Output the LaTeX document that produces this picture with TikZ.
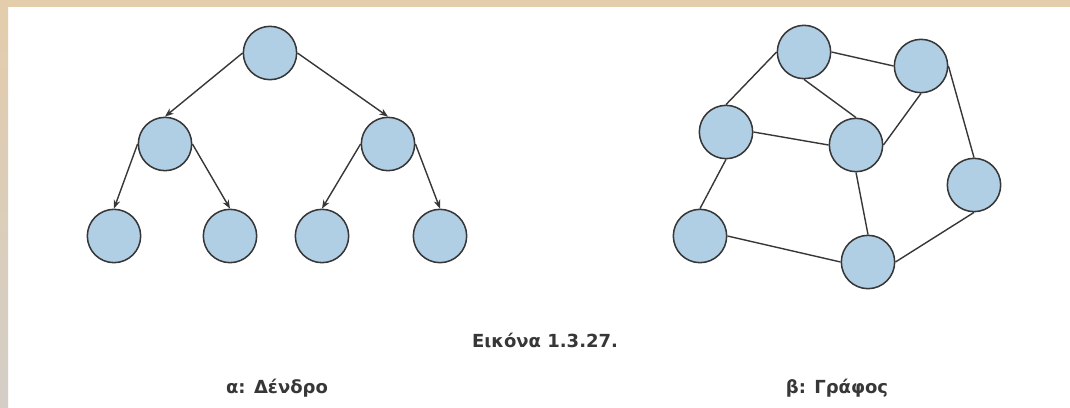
\documentclass[tikz,border=0pt]{standalone}
\usepackage{fontspec}
\setmainfont{DejaVu Sans}
\usetikzlibrary{arrows.meta}
\definecolor{nodeblue}{RGB}{176,207,229}
\definecolor{edgegray}{RGB}{55,55,55}
\definecolor{frametan}{RGB}{227,205,171}
\definecolor{framegray}{RGB}{212,206,199}

\begin{document}
\begin{tikzpicture}[x=0.75pt,y=-0.75pt,line join=round,
  vtx/.style={circle,draw=edgegray,fill=nodeblue,line width=1.15pt,minimum size=40pt,inner sep=0pt},
  arc/.style={edgegray,line width=1.05pt},
  tarc/.style={arc,-{Stealth[length=6.5pt,width=5pt]}},
  captext/.style={font=\bfseries\fontsize{13.5}{16}\selectfont,text=edgegray}]
  \useasboundingbox (0,0) rectangle (1070,407);
  % page with its frame on the top and left
  \fill[white] (0,0) rectangle (1070,407);
  \shade[top color=frametan,bottom color=framegray] (0,0) rectangle (8,407);
  \fill[frametan] (0,0) rectangle (1070,7);
  % the tree
  \node[vtx] (r) at (270,53) {};
  \node[vtx] (a) at (165,144) {}; \node[vtx] (b) at (388,144) {};
  \foreach \n/\x in {a1/114,a2/230,b1/322,b2/440} \node[vtx] (\n) at (\x,236) {};
  \draw[tarc] (r.west) -- (a.north); \draw[tarc] (r.east) -- (b.north);
  \foreach \p in {a,b} {\draw[tarc] (\p.west) -- (\p1.north); \draw[tarc] (\p.east) -- (\p2.north);}
  % the graph
  \node[vtx] (n1) at (804,52) {}; \node[vtx] (n2) at (921,66) {};
  \node[vtx] (n3) at (726,132) {}; \node[vtx] (n4) at (856,145) {};
  \node[vtx] (n5) at (974,185) {}; \node[vtx] (n6) at (700,236) {};
  \node[vtx] (n7) at (868,262) {};
  \foreach \u/\v in {n1.east/n2.west,n1.west/n3.north,n1.south/n4.north,n2.south/n4.east,
    n2.east/n5.north,n3.east/n4.west,n3.south/n6.north,n4.south/n7.north,
    n6.east/n7.west,n7.east/n5.south}
    \draw[arc] (\u) -- (\v);
  % captions
  \node[captext] (fig) at (545,340) {Εικόνα 1.3.27.};
  \node[captext] (lbla) at (277,388) {α: Δένδρο};
  \node[captext] (lblb) at (837,388) {β: Γράφος};
\end{tikzpicture}
\end{document}
